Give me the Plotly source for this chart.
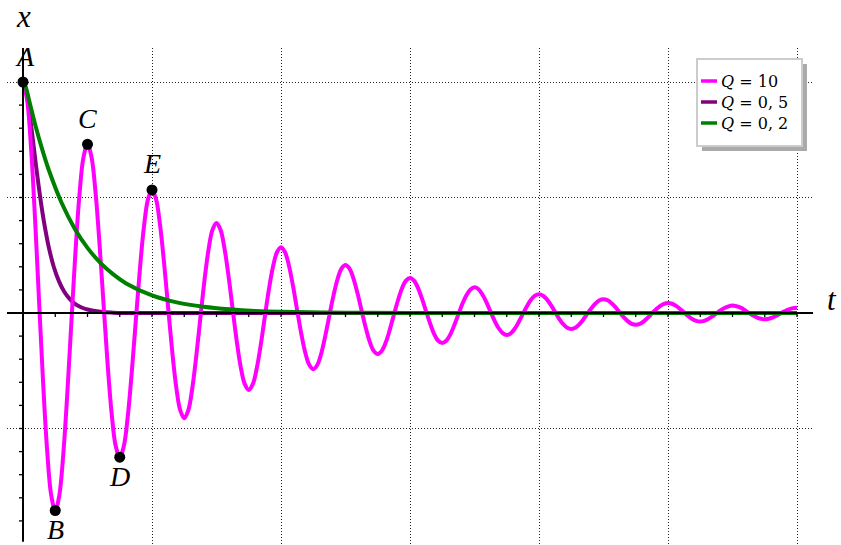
import plotly.graph_objects as go

# ---------------- data (t in grid units, x relative to A) -------------
t_q10 = [j / 32 for j in range(193)]          # sample times, 16 per oscillation period
x_q10 = [
    1.000, 0.925, 0.714, 0.404, 0.046, -0.305, -0.597, -0.789, -0.855, -0.790, -0.610, -0.346, -0.040, 0.261, 0.510, 0.674,
    0.730, 0.675, 0.521, 0.295, 0.034, -0.223, -0.436, -0.576, -0.624, -0.577, -0.446, -0.252, -0.029, 0.190, 0.373, 0.492,
    0.533, 0.493, 0.381, 0.216, 0.025, -0.163, -0.319, -0.421, -0.456, -0.422, -0.325, -0.184, -0.021, 0.139, 0.272, 0.360,
    0.390, 0.360, 0.278, 0.158, 0.018, -0.119, -0.233, -0.307, -0.333, -0.308, -0.238, -0.135, -0.015, 0.102, 0.199, 0.263,
    0.285, 0.263, 0.203, 0.115, 0.013, -0.087, -0.170, -0.224, -0.243, -0.225, -0.174, -0.098, -0.011, 0.074, 0.145, 0.192,
    0.208, 0.192, 0.148, 0.084, 0.010, -0.063, -0.124, -0.164, -0.178, -0.164, -0.127, -0.072, -0.008, 0.054, 0.106, 0.140,
    0.152, 0.140, 0.108, 0.061, 0.007, -0.046, -0.091, -0.120, -0.130, -0.120, -0.093, -0.052, -0.006, 0.040, 0.077, 0.102,
    0.111, 0.103, 0.079, 0.045, 0.005, -0.034, -0.066, -0.087, -0.095, -0.088, -0.068, -0.038, -0.004, 0.029, 0.057, 0.075,
    0.081, 0.075, 0.058, 0.033, 0.004, -0.025, -0.048, -0.064, -0.069, -0.064, -0.049, -0.028, -0.003, 0.021, 0.041, 0.055,
    0.059, 0.055, 0.042, 0.024, 0.003, -0.018, -0.035, -0.047, -0.051, -0.047, -0.036, -0.020, -0.002, 0.015, 0.030, 0.040,
    0.043, 0.040, 0.031, 0.017, 0.002, -0.013, -0.026, -0.034, -0.037, -0.034, -0.026, -0.015, -0.002, 0.011, 0.022, 0.029,
    0.032, 0.029, 0.023, 0.013, 0.001, -0.010, -0.019, -0.025, -0.027, -0.025, -0.019, -0.011, -0.001, 0.008, 0.016, 0.021,
    0.023,
]

t_q05 = [0, 0.02, 0.04, 0.06, 0.08, 0.10, 0.12, 0.14, 0.16, 0.18, 0.20, 0.24, 0.28,
         0.32, 0.36, 0.40, 0.45, 0.50, 0.60, 0.70, 0.80, 1.0, 2.0, 3.0, 4.0, 5.0, 6.0]
x_q05 = [1.0, 0.973, 0.909, 0.825, 0.734, 0.642, 0.555, 0.475, 0.403, 0.340, 0.284, 0.197, 0.136,
         0.092, 0.062, 0.041, 0.025, 0.015, 0.005, 0.0015, 0.0004, 0, 0, 0, 0, 0, 0]

t_q02 = [0, 0.02, 0.05, 0.1, 0.15, 0.2, 0.3, 0.4, 0.5, 0.6, 0.7, 0.8, 1.0, 1.2, 1.4, 1.6,
         1.8, 2.0, 2.5, 3.0, 4.0, 5.0, 6.0]
x_q02 = [1.0, 0.979, 0.915, 0.804, 0.706, 0.619, 0.476, 0.366, 0.282, 0.217, 0.167, 0.128,
         0.076, 0.045, 0.027, 0.016, 0.009, 0.0055, 0.0015, 0.0004, 0, 0, 0]

point_labels = ["A", "B", "C", "D", "E"]
point_t = [0.0, 0.25, 0.5, 0.75, 1.0]
point_x = [1.0, -0.855, 0.730, -0.624, 0.533]
point_above = [True, False, True, False, True]

series_names = ["<i>Q</i> = 10", "<i>Q</i> = 0, 5", "<i>Q</i> = 0, 2"]
series_colors = ["#ff00ff", "#800080", "#008000"]

x_grid = [1, 2, 3, 4, 5, 6]
y_grid = [-0.5, 0.5, 1.0]
x_minor = [0.25 * i for i in range(1, 25)]
y_minor = [round(0.1 * i, 1) for i in range(-9, 11) if i != 0]

x_label = "x"
t_label = "t"

# ---------------- geometry ----------------
W, H = 841, 545
ML, MR, MT, MB = 7, 28, 48, 0
PW, PH = W - ML - MR, H - MT - MB
x_range = [-0.124, 6.124]
y_range = [-(545 - 313) / 231, (313 - 48) / 231]
FONT = "Liberation Serif"
LEG_FONT = "DejaVu Serif"


def px(xp):
    return (xp - ML) / PW


def py(yp):
    return 1 - (yp - MT) / PH


fig = go.Figure()

# draw order: Q=0.5 (purple) below, Q=10 (magenta), Q=0.2 (green) on top
for t, x, i in [(t_q05, x_q05, 1), (t_q10, x_q10, 0), (t_q02, x_q02, 2)]:
    fig.add_trace(go.Scatter(
        x=t, y=x, mode="lines", name=series_names[i],
        line=dict(color=series_colors[i], width=4, shape="spline", smoothing=1),
        showlegend=False, hoverinfo="skip",
    ))

fig.add_trace(go.Scatter(
    x=point_t, y=point_x, mode="markers",
    marker=dict(color="black", size=11), showlegend=False, hoverinfo="skip",
))

shapes = []
# axes lines (on top of curves)
shapes.append(dict(type="line", xref="paper", yref="y", x0=0, x1=1, y0=0, y1=0,
                   line=dict(color="black", width=2), layer="above"))
shapes.append(dict(type="line", xref="x", yref="y", x0=0, x1=0, y0=-0.99, y1=y_range[1],
                   line=dict(color="black", width=2), layer="above"))
for tv in x_minor:
    shapes.append(dict(type="line", xref="x", yref="y", x0=tv, x1=tv,
                       ysizemode="pixel", yanchor=0, y0=-4, y1=0,
                       line=dict(color="black", width=1.3), layer="above"))
for yv in y_minor:
    shapes.append(dict(type="line", xref="x", yref="y", y0=yv, y1=yv,
                       xsizemode="pixel", xanchor=0, x0=-4, x1=0,
                       line=dict(color="black", width=1.3), layer="above"))

# legend box with shadow
shapes.append(dict(type="rect", xref="paper", yref="paper", x0=px(702), x1=px(807),
                   y0=py(151), y1=py(64), fillcolor="#aaaaaa", line=dict(width=0), layer="above"))
shapes.append(dict(type="rect", xref="paper", yref="paper", x0=px(697), x1=px(802),
                   y0=py(146), y1=py(59), fillcolor="white",
                   line=dict(color="#cccccc", width=2), layer="above"))
legend_rows = [81, 102, 123]
annotations = []
for i, yr in enumerate(legend_rows):
    shapes.append(dict(type="line", xref="paper", yref="paper", x0=px(701), x1=px(717),
                       y0=py(yr), y1=py(yr), line=dict(color=series_colors[i], width=3.5),
                       layer="above"))
    annotations.append(dict(xref="paper", yref="paper", x=px(719), y=py(yr), text=series_names[i],
                            showarrow=False, xanchor="left", yanchor="middle",
                            font=dict(family=LEG_FONT, size=16, color="black")))

# point labels
for lab, tv, xv, above in zip(point_labels, point_t, point_x, point_above):
    annotations.append(dict(xref="x", yref="y", x=tv, y=xv, text=f"<i>{lab}</i>",
                            showarrow=False, xanchor="center", yanchor="middle",
                            xshift=2 if lab == "A" else 0,
                            yshift=26 if above else -19,
                            font=dict(family=FONT, size=28, color="black")))

# axis titles
annotations.append(dict(xref="paper", yref="paper", x=px(23), y=py(17), text=f"<i>{x_label}</i>",
                        showarrow=False, xanchor="center", yanchor="middle",
                        font=dict(family=FONT, size=31, color="black")))
annotations.append(dict(xref="paper", yref="paper", x=px(832), y=py(299), text=f"<i>{t_label}</i>",
                        showarrow=False, xanchor="center", yanchor="middle",
                        font=dict(family=FONT, size=31, color="black")))

fig.update_layout(
    width=W, height=H,
    margin=dict(l=ML, r=MR, t=MT, b=MB, pad=0),
    paper_bgcolor="white", plot_bgcolor="white",
    shapes=shapes, annotations=annotations,
    showlegend=False,
    xaxis=dict(range=x_range, tickvals=x_grid, showticklabels=False, ticks="",
               showgrid=True, gridcolor="#222222", griddash="1px,2px", gridwidth=1,
               zeroline=False, showline=False, fixedrange=True),
    yaxis=dict(range=y_range, tickvals=y_grid, showticklabels=False, ticks="",
               showgrid=True, gridcolor="#222222", griddash="1px,2px", gridwidth=1,
               zeroline=False, showline=False, fixedrange=True),
)

fig.write_html(
    "out.html",
    config={"displayModeBar": False, "staticPlot": True},
    post_script="document.body.style.margin='0';document.body.style.padding='0';",
)
